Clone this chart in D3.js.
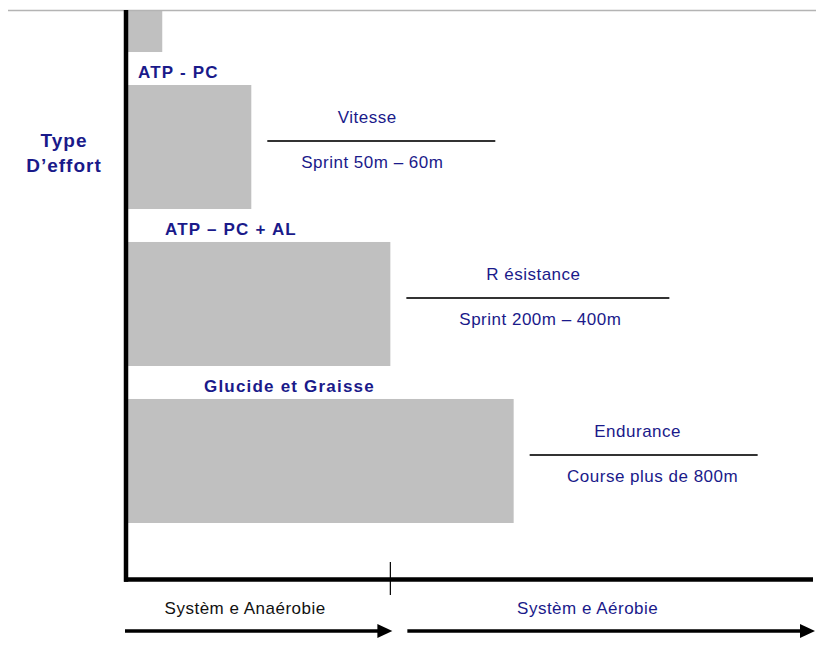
<!DOCTYPE html>
<html>
<head>
  <meta charset='utf-8'>
  <style>
  body { margin: 0; background: #fff; }
  svg text { font-family: 'Liberation Sans', Arial, sans-serif; }
  .bar { fill: #c0c0c0; }
  .sys-label { font-size: 17px; font-weight: bold; fill: #1a1a8a; letter-spacing: 1.2px; }
  .desc { font-size: 17px; fill: #1a1a8a; letter-spacing: 0.5px; text-anchor: middle; }
  .desc-line { stroke: #333; stroke-width: 2px; }
  .axis-line { stroke: #000; stroke-width: 4.5px; }
  </style>
</head>
<body>
<script src='https://d3js.org/d3.v7.min.js'></script>
<script>

// energy systems (rows, top to bottom) and how far each one reaches on the x axis
var systems = ['', 'ATP - PC', 'ATP – PC + AL', 'Glucide et Graisse'];
var reach = [0.5, 1.8, 3.83, 5.63];
var qualities = [null, 'Vitesse', 'R ésistance', 'Endurance'];
var distances = [null, 'Sprint 50m – 60m', 'Sprint 200m – 400m', 'Course plus de 800m'];
var zones = ['Systèm e Anaérobie', 'Systèm e Aérobie'];
var zoneLimits = [0, 3.83, 10];
var zoneColors = ['#111', '#1a1a8a'];
var yTitle = ['Type', 'D’effort'];

// layout only
var labelDx = [0, 10, 37, 76];
var qualityDx = [0, 116, 143, 124];
var distanceDx = [0, 121, 150, 139];
var lineLen = [0, 228, 263, 228];

var SVG_WIDTH = 816;
var SVG_HEIGHT = 647;

var svg = d3.select('body').append('svg')
    .attr('width', SVG_WIDTH)
    .attr('height', SVG_HEIGHT);

svg.append('defs').append('clipPath')
    .attr('id', 'frame')
  .append('rect')
    .attr('x', 0).attr('y', 10)
    .attr('width', SVG_WIDTH).attr('height', SVG_HEIGHT - 10);

var x = d3.scaleLinear()
    .domain([0, 10])
    .range([128, 813]);

var y = d3.scaleBand()
    .domain(d3.range(systems.length))
    .range([-72, 523])
    .paddingInner(0.21)
    .paddingOuter(0);

var g = svg.append('g').attr('clip-path', 'url(#frame)');

// bars
g.selectAll('.bar')
    .data(reach)
  .enter().append('rect')
    .attr('class', 'bar')
    .attr('x', x(0))
    .attr('y', function(d, i) { return y(i); })
    .attr('width', function(d) { return x(d) - x(0); })
    .attr('height', y.bandwidth());

// system labels above bars
g.selectAll('.sys-label')
    .data(systems)
  .enter().append('text')
    .attr('class', 'sys-label')
    .attr('x', function(d, i) { return x(0) + labelDx[i]; })
    .attr('y', function(d, i) { return y(i) - 7; })
    .text(function(d) { return d; });

// quality / distance annotations to the right of each bar
var rows = d3.range(systems.length).filter(function(i) { return qualities[i]; });

rows.forEach(function(i) {
  var x0 = x(reach[i]);
  var ly = y(i) + y.bandwidth() / 2 - 6;

  g.append('line')
      .attr('class', 'desc-line')
      .attr('x1', x0 + 16)
      .attr('x2', x0 + 16 + lineLen[i])
      .attr('y1', ly)
      .attr('y2', ly);

  g.append('text')
      .attr('class', 'desc')
      .attr('x', x0 + qualityDx[i])
      .attr('y', ly - 18)
      .text(qualities[i]);

  g.append('text')
      .attr('class', 'desc')
      .attr('x', x0 + distanceDx[i])
      .attr('y', ly + 27)
      .text(distances[i]);
});

// top frame line
svg.append('line')
    .attr('x1', 8).attr('x2', SVG_WIDTH)
    .attr('y1', 10.5).attr('y2', 10.5)
    .attr('stroke', '#b4b4b4')
    .attr('stroke-width', 1.5);

// axes
var axisY = 579.5;
svg.append('line')
    .attr('class', 'axis-line')
    .attr('x1', x(0) - 2).attr('x2', x(0) - 2)
    .attr('y1', 10).attr('y2', axisY + 2.25);

svg.append('line')
    .attr('class', 'axis-line')
    .attr('x1', x(0) - 4).attr('x2', x(10))
    .attr('y1', axisY).attr('y2', axisY);

// boundary tick between the two systems
svg.append('line')
    .attr('x1', x(zoneLimits[1])).attr('x2', x(zoneLimits[1]))
    .attr('y1', 562).attr('y2', 595)
    .attr('stroke', '#000')
    .attr('stroke-width', 1.2);

// y title
svg.selectAll('.ytitle')
    .data(yTitle)
  .enter().append('text')
    .attr('class', 'ytitle')
    .attr('x', 64)
    .attr('y', function(d, i) { return 147 + i * 25; })
    .attr('text-anchor', 'middle')
    .style('font-size', '19px')
    .style('font-weight', 'bold')
    .style('letter-spacing', '1px')
    .attr('fill', '#1a1a8a')
    .text(function(d) { return d; });

// zone labels and arrows under the axis
zones.forEach(function(z, i) {
  var a = x(zoneLimits[i]);
  var b = x(zoneLimits[i + 1]);

  svg.append('text')
      .attr('class', 'desc')
      .attr('x', (a + b) / 2 - 14)
      .attr('y', 614)
      .style('fill', zoneColors[i])
      .text(z);

  var start = i === 0 ? a - 3 : a + 17;
  var tip = b + 2;
  var ay = 631;

  svg.append('line')
      .attr('x1', start).attr('x2', tip - 12)
      .attr('y1', ay).attr('y2', ay)
      .attr('stroke', '#000')
      .attr('stroke-width', 3.5);

  svg.append('path')
      .attr('d', d3.line()([[tip - 15, ay - 7], [tip, ay], [tip - 15, ay + 7]]) + 'Z')
      .attr('fill', '#000');
});

</script>
</body>
</html>
